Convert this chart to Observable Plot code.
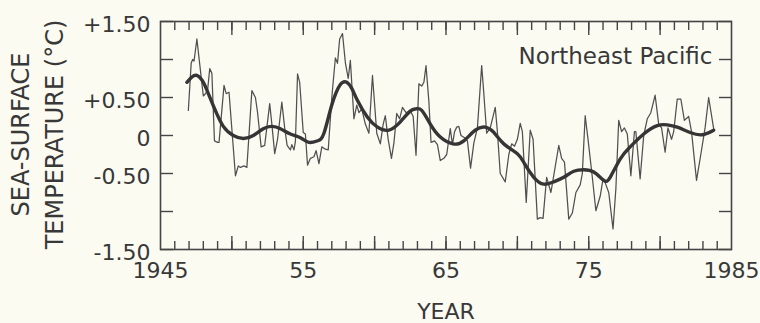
<!DOCTYPE html>
<html><head><meta charset="utf-8">
<script src="https://cdn.jsdelivr.net/npm/d3@7"></script>
<script src="https://cdn.jsdelivr.net/npm/@observablehq/plot@0.6"></script>
<style>
html,body{margin:0;padding:0;background:#fbfbf2;}
</style></head><body><div id="chart"></div>
<script>
const noisyYears = [1946.95,1947.15,1947.25,1947.35,1947.55,1947.8,1948.0,1948.15,1948.3,1948.45,1948.6,1948.78,1949.0,1949.1,1949.45,1949.6,1949.8,1950.25,1950.45,1950.6,1950.85,1951.05,1951.4,1951.65,1951.8,1952.05,1952.3,1952.65,1952.8,1953.0,1953.2,1953.5,1953.7,1953.87,1954.1,1954.2,1954.35,1954.45,1954.6,1954.75,1955.0,1955.15,1955.3,1955.5,1955.75,1955.9,1956.1,1956.3,1956.55,1956.75,1957.0,1957.25,1957.4,1957.55,1957.75,1957.95,1958.15,1958.3,1958.55,1958.75,1958.9,1959.1,1959.35,1959.6,1959.85,1960.15,1960.4,1960.6,1960.75,1960.95,1961.18,1961.35,1961.55,1961.75,1961.95,1962.2,1962.5,1962.7,1962.9,1963.1,1963.3,1963.45,1963.6,1963.8,1963.95,1964.2,1964.4,1964.6,1964.85,1965.05,1965.3,1965.45,1965.6,1965.75,1965.9,1966.05,1966.3,1966.5,1966.72,1966.95,1967.2,1967.5,1967.65,1967.85,1968.1,1968.45,1968.6,1968.8,1969.15,1969.4,1969.6,1969.8,1970.0,1970.2,1970.35,1970.62,1970.9,1971.1,1971.4,1971.6,1971.8,1972.05,1972.35,1972.9,1973.1,1973.3,1973.6,1973.85,1974.1,1974.4,1974.55,1974.75,1974.95,1975.25,1975.5,1975.8,1976.0,1976.15,1976.4,1976.7,1976.9,1977.1,1977.3,1977.5,1977.7,1977.95,1978.2,1978.3,1978.6,1978.85,1979.1,1979.35,1979.65,1979.9,1980.1,1980.35,1980.55,1980.8,1980.95,1981.2,1981.45,1981.7,1982.0,1982.2,1982.55,1982.85,1983.15,1983.4,1983.75];
const noisyValues = [0.33,0.95,1.00,0.98,1.27,0.85,0.52,0.55,0.60,0.88,0.82,-0.07,-0.09,-0.09,0.66,0.55,0.57,-0.53,-0.40,-0.42,-0.40,-0.42,0.59,0.50,0.30,-0.15,-0.13,0.42,0.15,-0.24,-0.05,0.44,0.10,-0.13,-0.19,-0.12,-0.19,-0.08,0.81,0.70,0.04,0.02,-0.39,-0.30,-0.28,-0.20,-0.37,-0.15,-0.18,-0.19,0.50,1.02,0.95,1.27,1.34,0.96,0.75,0.99,0.22,0.40,0.30,0.35,0.15,0.03,0.79,0.03,-0.11,0.15,0.26,-0.05,-0.30,-0.10,0.29,0.22,0.37,0.30,0.33,0.25,-0.26,0.68,0.65,0.70,0.92,0.45,-0.09,-0.07,-0.12,-0.33,-0.30,-0.25,0.09,-0.12,0.05,0.11,0.12,0.00,-0.03,-0.07,-0.43,-0.10,0.10,0.92,0.55,0.03,0.10,0.37,0.05,-0.50,-0.61,-0.25,-0.11,-0.14,-0.05,0.16,0.05,-0.88,0.07,-0.05,-1.10,-1.08,-1.09,-0.55,-0.75,-0.13,-0.30,-0.35,-1.10,-1.02,-0.75,-0.65,-0.50,0.26,-0.05,-0.55,-0.99,-0.80,-0.57,-0.62,-0.75,-1.23,-0.70,0.20,0.05,0.10,0.02,-0.53,0.05,0.05,-0.57,0.00,0.22,0.30,0.53,0.15,0.10,-0.22,0.10,-0.05,0.05,0.48,0.48,0.20,0.25,0.05,-0.59,-0.25,0.10,0.50,0.09];
const smoothYears = [1946.85,1947.2,1947.55,1947.9,1948.2,1948.75,1949.4,1950.1,1950.8,1951.5,1952.2,1952.8,1953.4,1954.1,1954.8,1955.4,1956.0,1956.45,1957.0,1957.6,1958.05,1958.4,1958.8,1959.5,1960.2,1961.0,1961.8,1962.5,1962.9,1963.3,1963.9,1964.6,1965.5,1966.25,1967.05,1967.75,1968.35,1969.05,1970.0,1970.5,1971.15,1971.85,1972.55,1973.25,1973.95,1974.65,1975.35,1976.05,1976.5,1977.2,1977.9,1978.85,1979.8,1980.5,1981.2,1982.1,1982.95,1983.75];
const smoothValues = [0.70,0.77,0.79,0.73,0.62,0.37,0.12,0.00,-0.04,0.00,0.09,0.12,0.09,0.02,-0.03,-0.09,-0.07,0.03,0.40,0.67,0.70,0.62,0.46,0.24,0.11,0.07,0.18,0.32,0.35,0.33,0.15,-0.02,-0.11,-0.07,0.07,0.11,0.04,-0.11,-0.24,-0.37,-0.55,-0.64,-0.61,-0.55,-0.47,-0.45,-0.48,-0.59,-0.55,-0.31,-0.15,0.02,0.13,0.14,0.11,0.04,0.01,0.07];
const xTickYears = [1945, 1955, 1965, 1975, 1985];
const xTickLabels = ["1945", "55", "65", "75", "1985"];
const yTickValues = [1.5, 0.5, 0, -0.5, -1.5];
const yTickLabels = ["+1.50", "+0.50", "0", "-0.50", "-1.50"];
const yTickMarks = [-1.5, -1, -0.5, 0, 0.5, 1, 1.5];
const minorYears = d3.range(1946, 1985, 1);
const majorYears = d3.range(1950, 1985, 5);
const seriesLabel = "Northeast Pacific";
const yTitle = "SEA-SURFACE\nTEMPERATURE (°C)";
const xTitle = "YEAR";

const noisy = noisyYears.map((year, i) => ({year, value: noisyValues[i]}));
const smooth = smoothYears.map((year, i) => ({year, value: smoothValues[i]}));
const ink = "#454545";
const textInk = "#383838";
const blank = () => "";

const chart = Plot.plot({
  width: 760, height: 323,
  marginLeft: 160, marginRight: 29, marginTop: 21, marginBottom: 74,
  style: {background: "transparent", fontFamily: "'DejaVu Sans', sans-serif", color: textInk},
  x: {domain: [1945, 1985]},
  y: {domain: [-1.5, 1.5]},
  marks: [
    Plot.axisX(minorYears, {anchor: "bottom", tickSize: -8, tickFormat: blank, stroke: ink, strokeWidth: 1.4, label: null}),
    Plot.axisX(minorYears, {anchor: "top", tickSize: -8, tickFormat: blank, stroke: ink, strokeWidth: 1.4, label: null}),
    Plot.axisX(majorYears, {anchor: "bottom", tickSize: -13, tickFormat: blank, stroke: ink, strokeWidth: 1.4, label: null}),
    Plot.axisX(majorYears, {anchor: "top", tickSize: -13, tickFormat: blank, stroke: ink, strokeWidth: 1.4, label: null}),
    Plot.axisY(yTickMarks, {anchor: "left", tickSize: -13, tickFormat: blank, stroke: ink, strokeWidth: 1.4, label: null}),
    Plot.axisY(yTickMarks, {anchor: "right", tickSize: -13, tickFormat: blank, stroke: ink, strokeWidth: 1.4, label: null}),
    Plot.axisX(xTickYears, {anchor: "bottom", tickSize: 0, tickPadding: 13, fontSize: 22, fill: textInk,
      tickFormat: d => xTickLabels[xTickYears.indexOf(d)], label: null}),
    Plot.axisY(yTickValues, {anchor: "left", tickSize: 0, tickPadding: 10, fontSize: 22, fill: textInk, dy: 3,
      tickFormat: d => yTickLabels[yTickValues.indexOf(d)], label: null}),
    Plot.frame({stroke: ink, strokeWidth: 1.6}),
    Plot.line(noisy, {x: "year", y: "value", stroke: "#505050", strokeWidth: 1.25, strokeLinejoin: "round"}),
    Plot.line(smooth, {x: "year", y: "value", stroke: "#353535", strokeWidth: 3.4, curve: "natural"}),
    Plot.text([seriesLabel], {frameAnchor: "top-right", text: d => d, textAnchor: "end", dx: -19, dy: 26, fontSize: 23, fill: textInk}),
    Plot.text([yTitle], {frameAnchor: "left", text: d => d, textAnchor: "middle", rotate: -90, dx: -125, dy: -1, fontSize: 24, lineHeight: 1.42, fill: textInk}),
    Plot.text([xTitle], {frameAnchor: "bottom", text: d => d, dy: 69, fontSize: 22, fill: textInk})
  ]
});
document.getElementById("chart").appendChild(chart);
</script>
</body></html>
